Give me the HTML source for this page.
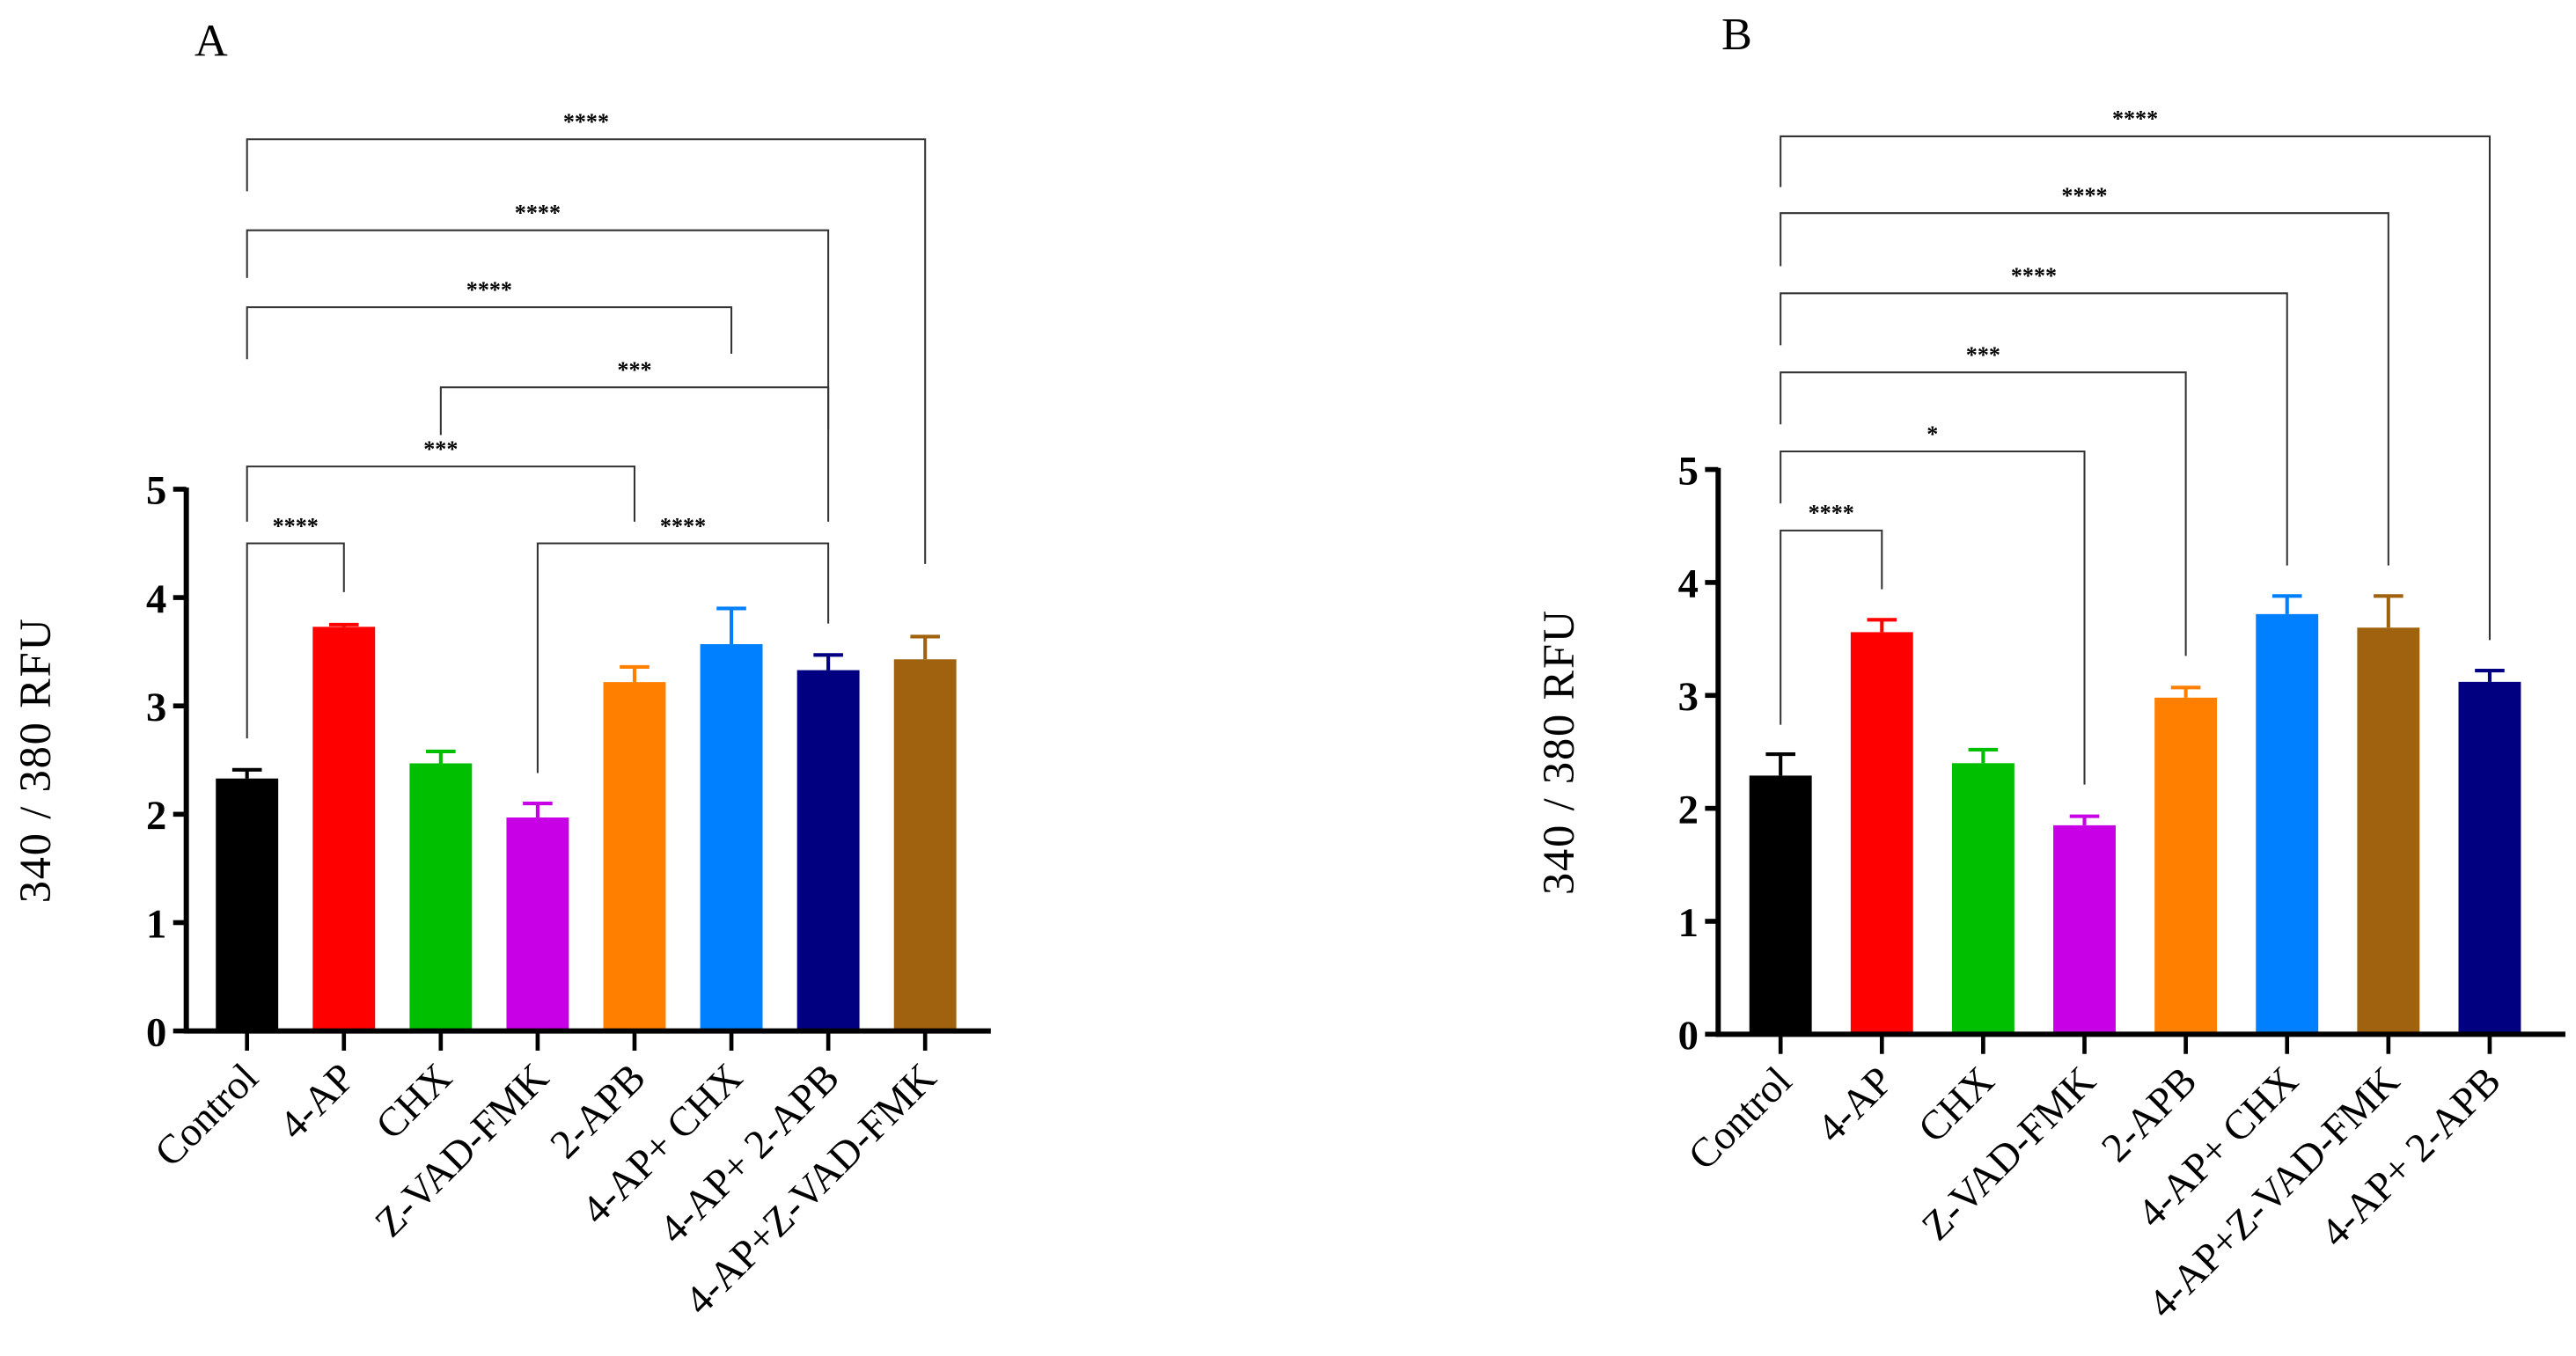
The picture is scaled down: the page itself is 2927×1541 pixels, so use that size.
<!DOCTYPE html>
<html><head><meta charset="utf-8"><style>
html,body{margin:0;padding:0;background:#fff;}
svg{display:block;}
text{font-family:"Liberation Serif",serif;}
</style></head><body>
<svg id="fig" width="2927" height="1541" viewBox="0 0 1568 826" xmlns="http://www.w3.org/2000/svg">
<text x="118" y="34" font-size="28">A</text>
<text x="1048" y="30" font-size="28">B</text>
</svg>
<script>
const catsA=["Control","4-AP","CHX","Z-VAD-FMK","2-APB","4-AP+ CHX","4-AP+ 2-APB","4-AP+Z-VAD-FMK"];
const valsA=[2.33,3.73,2.47,1.97,3.22,3.57,3.33,3.43];
const errA=[0.08,0.02,0.11,0.13,0.14,0.33,0.14,0.21];
const colorsA=["#000000","#ff0000","#00bf00","#c800e6","#ff8000","#0080ff","#000080","#a0620f"];
const bracketsA=[[0,1,4.5,2.7,4.05,"****"],[0,4,5.21,4.7,4.7,"***"],[3,6,4.5,2.38,3.76,"****"],[2,6,5.94,5.5,4.7,"***"],[0,5,6.68,6.2,6.25,"****"],[0,6,7.39,6.95,5.55,"****"],[0,7,8.23,7.75,4.31,"****"]];
const catsB=["Control","4-AP","CHX","Z-VAD-FMK","2-APB","4-AP+ CHX","4-AP+Z-VAD-FMK","4-AP+ 2-APB"];
const valsB=[2.29,3.56,2.40,1.85,2.98,3.72,3.60,3.12];
const errB=[0.19,0.11,0.12,0.08,0.09,0.16,0.28,0.10];
const colorsB=["#000000","#ff0000","#00bf00","#c800e6","#ff8000","#0080ff","#a0620f","#000080"];
const bracketsB=[[0,1,4.46,2.74,3.94,"****"],[0,3,5.16,4.7,2.21,"*"],[0,4,5.86,5.4,3.35,"***"],[0,5,6.56,6.1,4.15,"****"],[0,6,7.27,6.8,4.15,"****"],[0,7,7.95,7.5,3.49,"****"]];
const yTicks=[0,1,2,3,4,5];

const NS="http://www.w3.org/2000/svg";
const svg=document.getElementById('fig');
function mk(tag,attrs,parent){const e=document.createElementNS(NS,tag);for(const k in attrs)e.setAttribute(k,attrs[k]);(parent||svg).appendChild(e);return e;}

function panel(p,cats,vals,errs,colors,brackets,cfg){
  const g=mk('g',{});
  
  
  const y=v=>cfg.y0-v*cfg.unit;
  const x=i=>cfg.x0+i*cfg.step;
  vals.forEach((v,i)=>{
    const r=mk('rect',{x:x(i)-cfg.bw/2,y:y(v),width:cfg.bw,height:cfg.y0-y(v),fill:colors[i]},g);
    
    
    const e=mk('path',{d:`M${x(i)},${y(v)}V${y(v+errs[i])}M${x(i)-9},${y(v+errs[i])}H${x(i)+9}`,stroke:colors[i],'stroke-width':2.2,fill:'none'},g);
    
    
    const t=mk('line',{x1:x(i),x2:x(i),y1:cfg.y0,y2:cfg.y0+12,stroke:'#000','stroke-width':2.5},g);
    
    
    const lb=mk('text',{x:0,y:0,'font-size':25,'text-anchor':'end',transform:`translate(${x(i)+8},${cfg.y0+30}) rotate(-45)`},g);
    lb.textContent=cats[i];
    
    
  });
  const ya=mk('line',{x1:cfg.xa,x2:cfg.xa,y1:y(5)-1,y2:cfg.y0+1.5,stroke:'#000','stroke-width':3.2},g);
  
  
  const xa=mk('line',{x1:cfg.xa-1.5,x2:cfg.xend,y1:cfg.y0,y2:cfg.y0,stroke:'#000','stroke-width':3.2},g);
  
  
  yTicks.forEach(v=>{
    const t=mk('line',{x1:cfg.xa-8,x2:cfg.xa,y1:y(v),y2:y(v),stroke:'#000','stroke-width':3},g);
    
    
    const tl=mk('text',{x:cfg.xa-12,y:y(v)+9,'font-size':25,'font-weight':'bold','text-anchor':'end'},g);
    tl.textContent=v;
    
    
  });
  const yt=mk('text',{x:0,y:0,'font-size':27,'text-anchor':'middle','letter-spacing':'1',transform:`translate(${cfg.tx},${(y(5)+cfg.y0)/2}) rotate(-90)`},g);
  yt.textContent='340 / 380 RFU';
  
  
  brackets.forEach(b=>{
    const [a,c,h,l,r,s]=b;
    const pth=mk('path',{d:`M${x(a)},${y(l)}V${y(h)}H${x(c)}V${y(r)}`,stroke:'#333','stroke-width':1.1,fill:'none'},g);
    
    
    const st=mk('text',{x:(x(a)+x(c))/2,y:y(h)-6,'font-size':14,'font-weight':'bold','text-anchor':'middle','font-family':'Liberation Sans, sans-serif'},g);
    st.textContent=s;
    
    
  });
}
panel('a',catsA,valsA,errA,colorsA,bracketsA,{x0:150,step:59,bw:38,y0:628,unit:66,xa:113,xend:603,tx:30});
panel('b',catsB,valsB,errB,colorsB,bracketsB,{x0:1084,step:61.7,bw:38,y0:630,unit:68.8,xa:1046,xend:1562,tx:958});
</script>
</body></html>
